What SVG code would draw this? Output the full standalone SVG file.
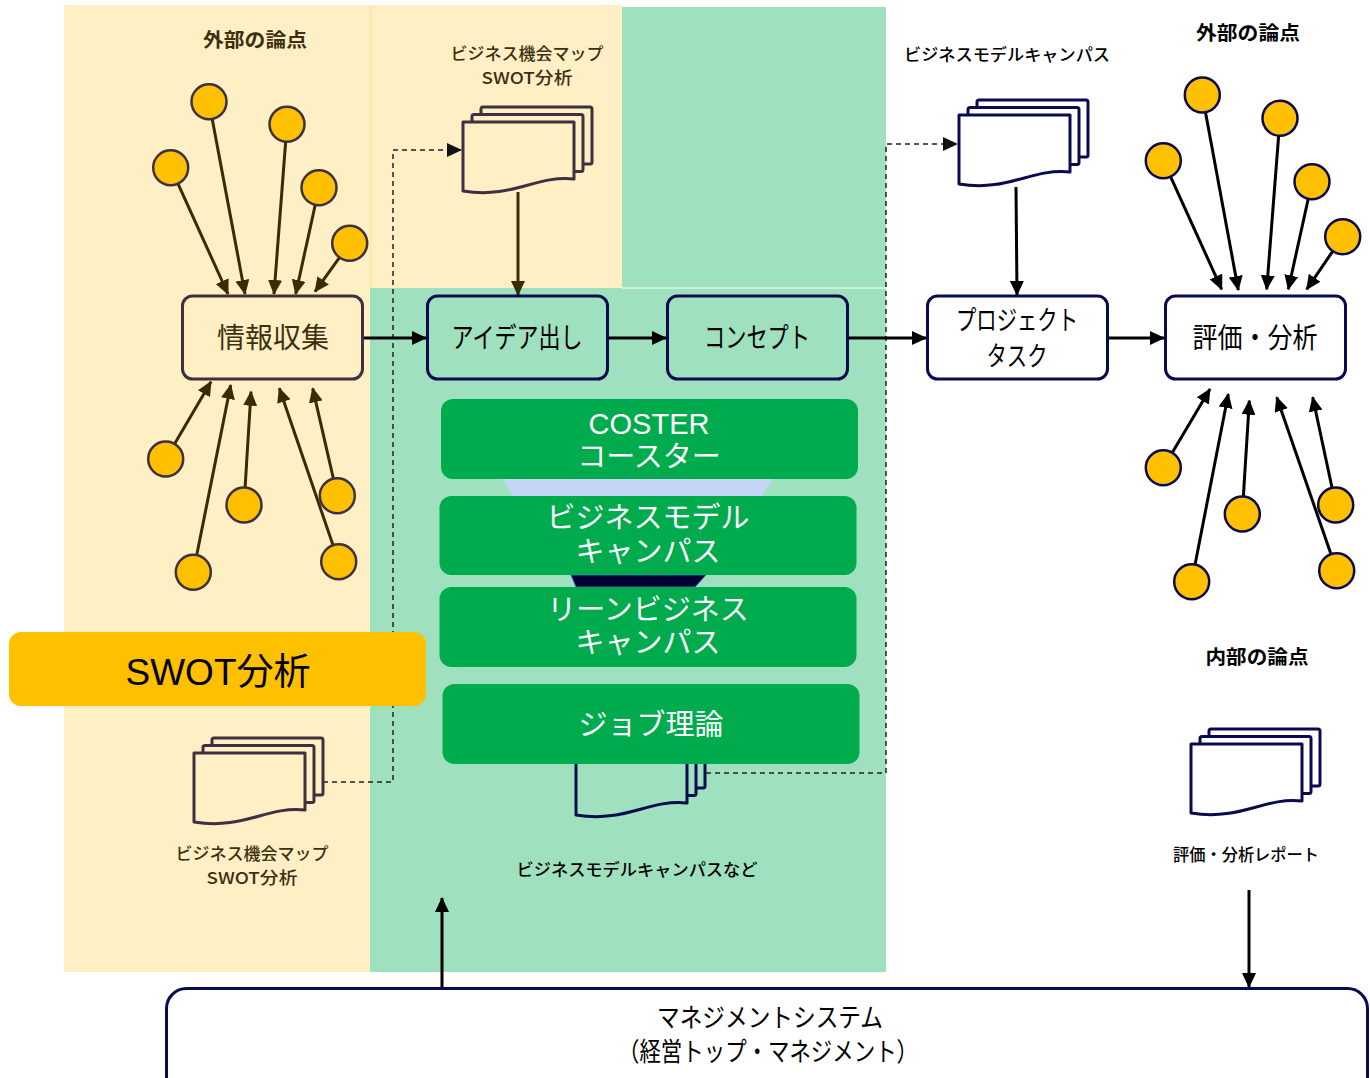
<svg xmlns="http://www.w3.org/2000/svg" xmlns:xlink="http://www.w3.org/1999/xlink" width="1370" height="1078" viewBox="0 0 1370 1078">
<style>
  .jp { font-family: "Noto Sans CJK JP", "Liberation Sans", sans-serif; }
  .lbl { font-family: "Noto Sans CJK JP", "Liberation Sans", sans-serif; font-size: 16.5px; font-weight: 500; text-anchor: middle; }
  .hdr { font-family: "Noto Sans CJK JP", "Liberation Sans", sans-serif; font-size: 19px; font-weight: bold; text-anchor: middle; }
  .olive { fill: #3D3010; }
  .blk { fill: #000; }
  .node-y { fill: #FFEFC5; stroke: #3D3040; stroke-width: 3; }
  .node-g { fill: #9FE0BE; stroke: #0A0A50; stroke-width: 3; }
  .node-w { fill: #FFFFFF; stroke: #0A0A50; stroke-width: 3; }
  .ntext { font-family: "Noto Sans CJK JP", "Liberation Sans", sans-serif; font-size: 28px; text-anchor: middle; }
  .fun { fill: #00AB4E; }
  .ftext { font-family: "Liberation Sans", "Noto Sans CJK JP", sans-serif; font-size: 29px; fill: #FFFFFF; text-anchor: middle; }
  .dot-y { fill: #FFC000; stroke: #3D3040; stroke-width: 2.5; }
  .dot-n { fill: #FFC000; stroke: #0A0A50; stroke-width: 2.5; }
  .cb { stroke: #3A2C00; stroke-width: 3; fill: none; marker-end: url(#ahb); }
  .ck { stroke: #000; stroke-width: 3; fill: none; marker-end: url(#ahk); }
  .dash { stroke: #222; stroke-width: 1.5; fill: none; stroke-dasharray: 5 4; }
</style>
<defs>
  <marker id="ahb" markerUnits="userSpaceOnUse" markerWidth="16" markerHeight="14" refX="14" refY="7" orient="auto">
    <path d="M0,0 L15,7 L0,14 Z" fill="#3A2C00"/>
  </marker>
  <marker id="ahk" markerUnits="userSpaceOnUse" markerWidth="16" markerHeight="14" refX="14" refY="7" orient="auto">
    <path d="M0,0 L15,7 L0,14 Z" fill="#000"/>
  </marker>
  <marker id="ahd" markerUnits="userSpaceOnUse" markerWidth="16" markerHeight="14" refX="14" refY="7" orient="auto">
    <path d="M0,0 L15,7 L0,14 Z" fill="#111"/>
  </marker>
  <g id="doc">
    <rect x="18" y="-15" width="111" height="57" rx="2"/>
    <rect x="9" y="-7.5" width="111" height="57" rx="2"/>
    <path d="M0,0 H111 V57 C72,53 50,77 0,69 Z" stroke-linejoin="round"/>
  </g>
</defs>

<!-- backgrounds -->
<g id="backgrounds">
  <rect x="64" y="5" width="307" height="967" fill="#FFEFC5"/>
  <rect x="371" y="5" width="251" height="284" fill="#FFEFC5"/>
  <rect x="622" y="7" width="264" height="281" fill="#9FE0BE"/>
  <rect x="370" y="288" width="516" height="684" fill="#9FE0BE"/>
  <line x1="370.5" y1="5" x2="370.5" y2="288" stroke="#FCE3A0" stroke-width="1.5"/>
  <line x1="622" y1="288" x2="886" y2="288" stroke="#FFFFFF" stroke-width="1"/>
</g>

<!-- connectors -->
<g id="connectors">
  <line class="cb" x1="170.7" y1="167.7" x2="228" y2="294"/>
  <line class="cb" x1="209" y1="101.7" x2="245" y2="294"/>
  <line class="cb" x1="287" y1="124.3" x2="274" y2="294"/>
  <line class="cb" x1="319" y1="187.7" x2="295.7" y2="294"/>
  <line class="cb" x1="349.7" y1="243.3" x2="315" y2="291.7"/>
  <line class="cb" x1="165.7" y1="459" x2="211" y2="381.7"/>
  <line class="cb" x1="193.3" y1="572.3" x2="230.7" y2="385"/>
  <line class="cb" x1="244" y1="505" x2="251" y2="391.7"/>
  <line class="cb" x1="338.7" y1="561.7" x2="279.3" y2="388.3"/>
  <line class="cb" x1="337.3" y1="495.7" x2="312.7" y2="388.3"/>
  <line class="ck" x1="1163.3" y1="160.7" x2="1221.7" y2="289.3"/>
  <line class="ck" x1="1202.3" y1="95" x2="1238.3" y2="290"/>
  <line class="ck" x1="1280" y1="118.3" x2="1266.7" y2="289.3"/>
  <line class="ck" x1="1312" y1="181.7" x2="1288.3" y2="289.3"/>
  <line class="ck" x1="1342.7" y1="236.7" x2="1306.7" y2="289.3"/>
  <line class="ck" x1="1163.3" y1="467.7" x2="1210" y2="389"/>
  <line class="ck" x1="1191.7" y1="581.7" x2="1228.3" y2="394"/>
  <line class="ck" x1="1242.3" y1="514" x2="1249.3" y2="400.7"/>
  <line class="ck" x1="1336.7" y1="570.7" x2="1276.7" y2="397.3"/>
  <line class="ck" x1="1335.7" y1="505" x2="1312.7" y2="397.3"/>
  <path class="dash" d="M323,782 H393 V150 H461" marker-end="url(#ahd)"/>
  <path class="dash" d="M706,773 H886 V144 H957" marker-end="url(#ahd)"/>
  <line class="cb" x1="518" y1="192" x2="518" y2="295"/>
  <line class="ck" x1="1016" y1="187" x2="1017" y2="295"/>
  <line class="ck" x1="363" y1="338" x2="426" y2="338"/>
  <line class="ck" x1="608" y1="338" x2="666" y2="338"/>
  <line class="ck" x1="848" y1="338" x2="926" y2="338"/>
  <line class="ck" x1="1108" y1="338" x2="1164" y2="338"/>
  <line class="ck" x1="442" y1="988" x2="442" y2="898"/>
  <line class="ck" x1="1249" y1="890" x2="1249" y2="987"/>
</g>

<!-- documents -->
<g id="doc-swot-top"><use xlink:href="#doc" href="#doc" x="463" y="122" fill="#FFEFC5" stroke="#3D3040" stroke-width="3"/></g>
<g id="doc-swot-bottom"><use xlink:href="#doc" href="#doc" x="194" y="753" fill="#FFEFC5" stroke="#3D3040" stroke-width="3"/></g>
<g id="doc-bmc"><use xlink:href="#doc" href="#doc" x="959" y="115" fill="#FFFFFF" stroke="#0A0A50" stroke-width="3"/></g>
<g id="doc-report"><use xlink:href="#doc" href="#doc" x="1191" y="744" fill="#FFFFFF" stroke="#0A0A50" stroke-width="3"/></g>
<g id="doc-job"><use xlink:href="#doc" href="#doc" x="576" y="746" fill="#9FE0BE" stroke="#0A0A50" stroke-width="3"/></g>

<!-- circles -->
<g id="circles-left">
  <circle class="dot-y" cx="170.7" cy="167.7" r="17.5"/>
  <circle class="dot-y" cx="209" cy="101.7" r="17.5"/>
  <circle class="dot-y" cx="287" cy="124.3" r="17.5"/>
  <circle class="dot-y" cx="319" cy="187.7" r="17.5"/>
  <circle class="dot-y" cx="349.7" cy="243.3" r="17.5"/>
  <circle class="dot-y" cx="165.7" cy="459" r="17.5"/>
  <circle class="dot-y" cx="193.3" cy="572.3" r="17.5"/>
  <circle class="dot-y" cx="244" cy="505" r="17.5"/>
  <circle class="dot-y" cx="338.7" cy="561.7" r="17.5"/>
  <circle class="dot-y" cx="337.3" cy="495.7" r="17.5"/>
</g>
<g id="circles-right">
  <circle class="dot-n" cx="1163.3" cy="160.7" r="17.5"/>
  <circle class="dot-n" cx="1202.3" cy="95" r="17.5"/>
  <circle class="dot-n" cx="1280" cy="118.3" r="17.5"/>
  <circle class="dot-n" cx="1312" cy="181.7" r="17.5"/>
  <circle class="dot-n" cx="1342.7" cy="236.7" r="17.5"/>
  <circle class="dot-n" cx="1163.3" cy="467.7" r="17.5"/>
  <circle class="dot-n" cx="1191.7" cy="581.7" r="17.5"/>
  <circle class="dot-n" cx="1242.3" cy="514" r="17.5"/>
  <circle class="dot-n" cx="1336.7" cy="570.7" r="17.5"/>
  <circle class="dot-n" cx="1335.7" cy="505" r="17.5"/>
</g>

<!-- main nodes -->
<g id="node-joho">
  <rect class="node-y" x="182.5" y="296" width="180" height="83" rx="10"/>
  <text class="ntext olive" x="273" y="348" textLength="112" lengthAdjust="spacingAndGlyphs">情報収集</text>
</g>
<g id="node-idea">
  <rect class="node-g" x="427.5" y="296" width="180" height="83" rx="10"/>
  <text class="ntext blk" x="517" y="348" textLength="131" lengthAdjust="spacingAndGlyphs">アイデア出し</text>
</g>
<g id="node-concept">
  <rect class="node-g" x="667.5" y="296" width="180" height="83" rx="10"/>
  <text class="ntext blk" x="757" y="348" textLength="106" lengthAdjust="spacingAndGlyphs">コンセプト</text>
</g>
<g id="node-project">
  <rect class="node-w" x="927.5" y="296" width="180" height="83" rx="10"/>
  <text class="ntext blk" x="1017" y="330" textLength="122" lengthAdjust="spacingAndGlyphs" style="font-size:27px">プロジェクト</text>
  <text class="ntext blk" x="1017" y="366" textLength="61" lengthAdjust="spacingAndGlyphs" style="font-size:27px">タスク</text>
</g>
<g id="node-eval">
  <rect class="node-w" x="1165.5" y="296" width="180" height="83" rx="10"/>
  <text class="ntext blk" x="1255" y="348" textLength="125" lengthAdjust="spacingAndGlyphs">評価・分析</text>
</g>

<!-- funnel -->
<g id="funnel-connect">
  <polygon points="502,479 773,479 762,496 513,496" fill="#C5D5F5"/>
  <polygon points="571,575 706,575 695,587 576,587" fill="#000033" stroke="#4060C0" stroke-width="1"/>
</g>
<g id="node-coster">
  <rect class="fun" x="441" y="399" width="417" height="80" rx="12"/>
  <text class="ftext" x="649" y="434">COSTER</text>
  <text class="ftext jp" x="649" y="467">コースター</text>
</g>
<g id="node-bmc">
  <rect class="fun" x="439.5" y="496" width="417" height="79" rx="12"/>
  <text class="ftext jp" x="648" y="528">ビジネスモデル</text>
  <text class="ftext jp" x="648" y="562">キャンパス</text>
</g>
<g id="node-lean">
  <rect class="fun" x="439.5" y="587" width="417" height="80" rx="12"/>
  <text class="ftext jp" x="648" y="620">リーンビジネス</text>
  <text class="ftext jp" x="648" y="653">キャンパス</text>
</g>
<g id="node-job">
  <rect class="fun" x="442.5" y="684" width="417" height="80" rx="12"/>
  <text class="ftext jp" x="651" y="735">ジョブ理論</text>
</g>

<!-- SWOT box -->
<g id="node-swot">
  <rect x="9" y="632" width="417" height="74" rx="12" fill="#FFC000"/>
  <text x="218" y="685" font-family="Liberation Sans, Noto Sans CJK JP, sans-serif" font-size="37" fill="#000" text-anchor="middle">SWOT分析</text>
</g>

<!-- management -->
<g id="node-management">
  <rect x="166.5" y="988.5" width="1201" height="110" rx="20" fill="#FFFFFF" stroke="#0A0A50" stroke-width="3"/>
  <text class="ntext blk" x="770" y="1027" textLength="226" lengthAdjust="spacingAndGlyphs" style="font-size:26px">マネジメントシステム</text>
  <text class="ntext blk" x="768" y="1061" textLength="300" lengthAdjust="spacingAndGlyphs" style="font-size:26px">（経営トップ・マネジメント）</text>
</g>

<!-- labels -->
<g id="labels">
  <text class="hdr olive" x="255" y="47" textLength="104" lengthAdjust="spacingAndGlyphs">外部の論点</text>
  <text class="lbl olive" x="527" y="60" textLength="153" lengthAdjust="spacingAndGlyphs">ビジネス機会マップ</text>
  <text class="lbl olive" x="527" y="84" textLength="91" lengthAdjust="spacingAndGlyphs">SWOT分析</text>
  <text class="lbl blk" x="1007" y="61" textLength="206" lengthAdjust="spacingAndGlyphs">ビジネスモデルキャンパス</text>
  <text class="hdr blk" x="1248" y="40" textLength="104" lengthAdjust="spacingAndGlyphs">外部の論点</text>
  <text class="hdr blk" x="1257" y="664" textLength="103" lengthAdjust="spacingAndGlyphs">内部の論点</text>
  <text class="lbl blk" x="1246" y="861" textLength="146" lengthAdjust="spacingAndGlyphs">評価・分析レポート</text>
  <text class="lbl olive" x="252" y="860" textLength="153" lengthAdjust="spacingAndGlyphs">ビジネス機会マップ</text>
  <text class="lbl olive" x="252" y="884" textLength="91" lengthAdjust="spacingAndGlyphs">SWOT分析</text>
  <text class="lbl blk" x="637" y="876" textLength="241" lengthAdjust="spacingAndGlyphs">ビジネスモデルキャンパスなど</text>
</g>
</svg>
